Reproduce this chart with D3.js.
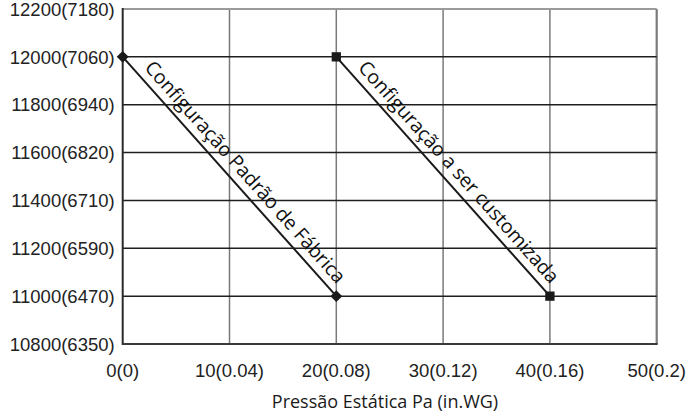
<!DOCTYPE html>
<html><head><meta charset="utf-8">
<script src="https://cdn.jsdelivr.net/npm/d3@7"></script>
<style>html,body{margin:0;padding:0;background:#fff;}</style>
</head><body>
<svg id="c" width="688" height="418"></svg>
<script>
const xTicks = [0, 10, 20, 30, 40, 50];
const xTickLabels = ["0(0)", "10(0.04)", "20(0.08)", "30(0.12)", "40(0.16)", "50(0.2)"];
const yTicks = [10800, 11000, 11200, 11400, 11600, 11800, 12000, 12200];
const yTickLabels = ["10800(6350)", "11000(6470)", "11200(6590)", "11400(6710)", "11600(6820)", "11800(6940)", "12000(7060)", "12200(7180)"];
const factoryX = [0, 20];
const factoryY = [12000, 11000];
const customX = [20, 40];
const customY = [12000, 11000];
const factoryLabel = "Configuração Padrão de Fábrica";
const customLabel = "Configuração a ser customizada";
const xTitle = "Pressão Estática Pa (in.WG)";

const W = 688, H = 418;
const m = {l: 122.7, r: 31.3, t: 9, b: 74};
const svg = d3.select("#c");
const x = d3.scaleLinear().domain([0, 50]).range([m.l, W - m.r]);
const y = d3.scaleLinear().domain([10800, 12200]).range([H - m.b, m.t]);

const g = svg.append("g");
g.selectAll(".vg").data(xTicks.slice(1)).join("line")
  .attr("x1", d => x(d)).attr("x2", d => x(d))
  .attr("y1", y(12200)).attr("y2", y(10800))
  .attr("stroke", "#7a7a7a").attr("stroke-width", d => d === 50 ? 2.2 : 1.5);
g.selectAll(".hg").data(yTicks.slice(1)).join("line")
  .attr("x1", x(0)).attr("x2", x(50))
  .attr("y1", d => y(d)).attr("y2", d => y(d))
  .attr("stroke", d => d === 12200 ? "#9a9a9a" : "#1e1e1e")
  .attr("stroke-width", d => d === 12200 ? 2.2 : 1.5);
g.append("line").attr("x1", x(0)).attr("x2", x(0)).attr("y1", y(12200) - 1).attr("y2", y(10800) + 1)
  .attr("stroke", "#2a2a2a").attr("stroke-width", 2);
g.append("line").attr("x1", x(0)).attr("x2", x(50) + 1).attr("y1", y(10800)).attr("y2", y(10800))
  .attr("stroke", "#3a3a3a").attr("stroke-width", 2);

const tf = "Liberation Sans";
svg.append("g").selectAll("text").data(yTicks).join("text")
  .attr("x", x(0) - 8).attr("y", d => y(d)).attr("dy", "0.36em")
  .attr("text-anchor", "end").style("font-family", tf).attr("font-size", 18.5)
  .attr("fill", "#222")
  .text((d, i) => yTickLabels[i]);
svg.append("g").selectAll("text").data(xTicks).join("text")
  .attr("x", d => x(d)).attr("y", y(10800) + 26).attr("dy", "0.36em")
  .attr("text-anchor", "middle").style("font-family", tf).attr("font-size", 18.5)
  .attr("fill", "#222")
  .text((d, i) => xTickLabels[i]);
svg.append("text").attr("x", 385).attr("y", 402).attr("dy", "0.36em")
  .attr("text-anchor", "middle").style("font-family", "'Open Sans', 'Noto Sans', sans-serif")
  .attr("font-size", 18).attr("fill", "#1a1a1a").text(xTitle);

const line = d3.line().x(d => x(d[0])).y(d => y(d[1]));
function series(xs, ys, label, marker) {
  const pts = xs.map((v, i) => [v, ys[i]]);
  svg.append("path").datum(pts).attr("d", line).attr("fill", "none")
    .attr("stroke", "#1a1a1a").attr("stroke-width", 2);
  const sym = d3.symbol().type(marker === "d" ? d3.symbolDiamond2 : d3.symbolSquare2).size(marker === "d" ? 90 : 110);
  svg.append("g").selectAll("path").data(pts).join("path")
    .attr("transform", d => `translate(${x(d[0])},${y(d[1])})`)
    .attr("d", sym).attr("fill", "#1a1a1a");
  const x1 = x(pts[0][0]), y1 = y(pts[0][1]), x2 = x(pts[1][0]), y2 = y(pts[1][1]);
  const ang = Math.atan2(y2 - y1, x2 - x1) * 180 / Math.PI;
  const cx = (x1 + x2) / 2, cy = (y1 + y2) / 2;
  svg.append("text")
    .attr("transform", `translate(${cx},${cy}) rotate(${ang})`)
    .attr("x", 7).attr("y", -8)
    .attr("text-anchor", "middle").style("font-family", "'Open Sans', 'Noto Sans', sans-serif")
    .attr("font-size", 19.5).attr("fill", "#111").text(label);
}
series(factoryX, factoryY, factoryLabel, "d");
series(customX, customY, customLabel, "s");
</script>
</body></html>
